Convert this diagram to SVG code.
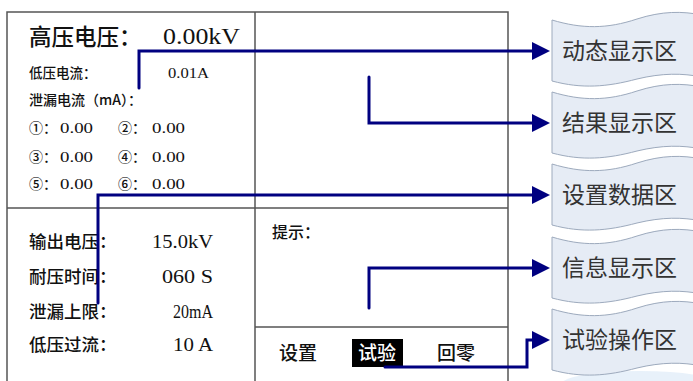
<svg xmlns="http://www.w3.org/2000/svg" width="693" height="381" viewBox="0 0 693 381">
<style>
.cn{font-family:"Noto Sans CJK SC","Noto Sans",sans-serif;fill:#111;font-weight:500}
.num{font-family:"Liberation Serif","DejaVu Serif",serif;fill:#111}
.frame{fill:none;stroke:#555;stroke-width:1.5}
.conn{fill:none;stroke:#000080;stroke-width:3;stroke-linecap:round;stroke-linejoin:miter}
.tape{fill:#E6ECF5;stroke:#9DAABD;stroke-width:1}
.lbl{font-family:"Noto Sans CJK SC","Noto Sans",sans-serif;font-size:23px;fill:#333}
</style>
<defs>
<marker id="ah" markerUnits="userSpaceOnUse" markerWidth="18" markerHeight="18" refX="8" refY="9" orient="auto">
<path d="M0,0 L18,9 L0,18 Z" fill="#000080"/>
</marker>
<path id="tp" d="M0,-31 C30,-22 55,-22 85,-32 C110,-40 130,-40 150,-36 L150,26 C130,22 110,22 85,28 C55,36 30,38 0,30 Z"/>
</defs>
<rect width="693" height="381" fill="#fff"/>
<ellipse cx="640" cy="385" rx="80" ry="14" fill="#D8E8F6" opacity="0.6"/>

<g id="screen">
<rect class="frame" x="7" y="12" width="501" height="380"/>
<line class="frame" x1="255" y1="12" x2="255" y2="381"/>
<line class="frame" x1="7" y1="208" x2="255" y2="208"/>
<line class="frame" x1="255" y1="208" x2="508" y2="208"/>
<line class="frame" x1="255" y1="327" x2="508" y2="327"/>
</g>

<g id="dynamic-area">
<text class="cn" x="29" y="45" font-size="22.5">高压电压：</text>
<text class="num" x="163" y="44" font-size="24" textLength="77" lengthAdjust="spacingAndGlyphs">0.00kV</text>
<text class="cn" x="29" y="78" font-size="13.5">低压电流：</text>
<text class="num" x="168" y="78" font-size="15" textLength="41" lengthAdjust="spacingAndGlyphs">0.01A</text>
<text class="cn" x="29" y="105" font-size="14">泄漏电流（mA）：</text>
<text class="cn" x="29" y="133" font-size="14">①：</text>
<text class="num" x="60" y="133" font-size="15" textLength="33" lengthAdjust="spacingAndGlyphs">0.00</text>
<text class="cn" x="118" y="133" font-size="14">②：</text>
<text class="num" x="152" y="133" font-size="15" textLength="33" lengthAdjust="spacingAndGlyphs">0.00</text>
<text class="cn" x="29" y="162" font-size="14">③：</text>
<text class="num" x="60" y="162" font-size="15" textLength="33" lengthAdjust="spacingAndGlyphs">0.00</text>
<text class="cn" x="118" y="162" font-size="14">④：</text>
<text class="num" x="152" y="162" font-size="15" textLength="33" lengthAdjust="spacingAndGlyphs">0.00</text>
<text class="cn" x="29" y="189" font-size="14">⑤：</text>
<text class="num" x="60" y="189" font-size="15" textLength="33" lengthAdjust="spacingAndGlyphs">0.00</text>
<text class="cn" x="118" y="189" font-size="14">⑥：</text>
<text class="num" x="152" y="189" font-size="15" textLength="33" lengthAdjust="spacingAndGlyphs">0.00</text>
</g>

<g id="settings-area">
<text class="cn" x="29" y="248" font-size="17.5">输出电压：</text>
<text class="num" x="152" y="248" font-size="18" textLength="61" lengthAdjust="spacingAndGlyphs">15.0kV</text>
<text class="cn" x="29" y="283" font-size="17.5">耐压时间：</text>
<text class="num" x="162" y="283" font-size="18" textLength="51" lengthAdjust="spacingAndGlyphs">060 S</text>
<text class="cn" x="29" y="318" font-size="17.5">泄漏上限：</text>
<text class="num" x="173" y="318" font-size="18" textLength="40" lengthAdjust="spacingAndGlyphs">20mA</text>
<text class="cn" x="29" y="351" font-size="17.5">低压过流：</text>
<text class="num" x="173" y="351" font-size="18" textLength="40" lengthAdjust="spacingAndGlyphs">10 A</text>
</g>

<g id="info-area">
<text class="cn" x="272" y="238" font-size="16">提示：</text>
</g>

<g id="operation-area">
<text class="cn" x="279" y="360" font-size="19">设置</text>
<rect x="352" y="339" width="51" height="28" fill="#000"/>
<text class="cn" x="358" y="360" font-size="19" style="fill:#fff">试验</text>
<text class="cn" x="437" y="360" font-size="19">回零</text>
</g>

<g id="connectors">
<path class="conn" d="M139,88 V51 H540" marker-end="url(#ah)"/>
<path class="conn" d="M369,77 V123 H540" marker-end="url(#ah)"/>
<path class="conn" d="M98,303 V195 H540" marker-end="url(#ah)"/>
<path class="conn" d="M369,308 V268 H540" marker-end="url(#ah)"/>
<path class="conn" d="M385,367 H527 V340 H540" marker-end="url(#ah)"/>
</g>

<g id="label-dynamic" transform="translate(552,51)">
<use href="#tp" class="tape"/>
<text class="lbl" x="10" y="8">动态显示区</text>
</g>
<g id="label-result" transform="translate(552,123)">
<use href="#tp" class="tape"/>
<text class="lbl" x="10" y="8">结果显示区</text>
</g>
<g id="label-settings" transform="translate(552,195)">
<use href="#tp" class="tape"/>
<text class="lbl" x="10" y="8">设置数据区</text>
</g>
<g id="label-info" transform="translate(552,268)">
<use href="#tp" class="tape"/>
<text class="lbl" x="10" y="8">信息显示区</text>
</g>
<g id="label-operation" transform="translate(552,340)">
<use href="#tp" class="tape"/>
<text class="lbl" x="10" y="8">试验操作区</text>
</g>
</svg>
